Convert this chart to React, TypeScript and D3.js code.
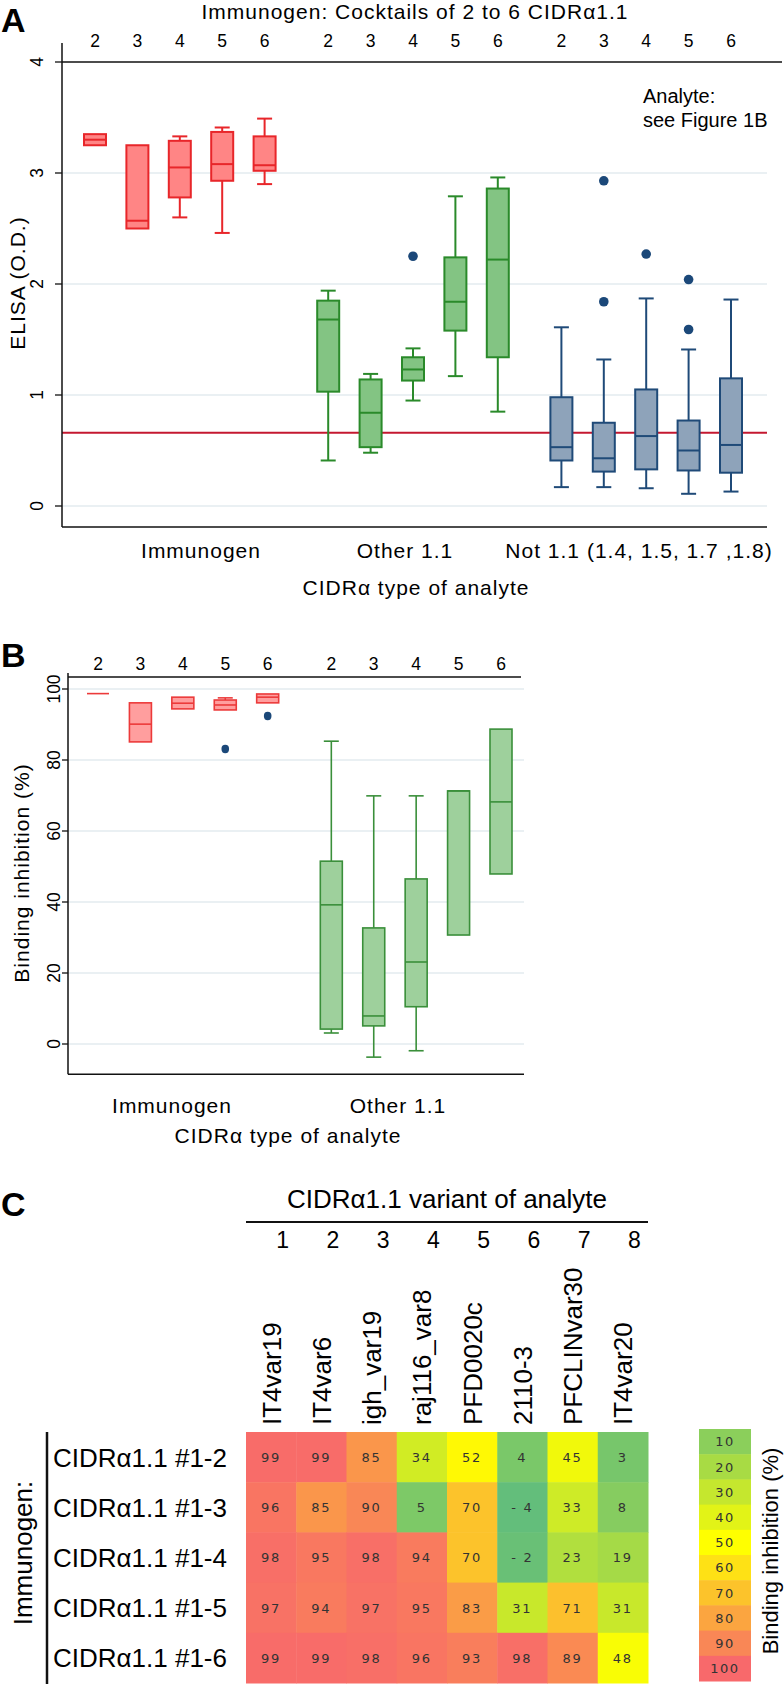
import React from "react";
import * as d3 from "d3";

// ---------- DATA ----------
const cocktailSizes = ["2", "3", "4", "5", "6"];
const analyteGroupsA = ["Immunogen", "Other 1.1", "Not 1.1 (1.4, 1.5, 1.7 ,1.8)"];
const analyteGroupsB = ["Immunogen", "Other 1.1"];

// [lower whisker, q1, median, q3, upper whisker]
const elisaImmunogen = [
  [3.25, 3.25, 3.3, 3.35, 3.35],
  [2.5, 2.5, 2.57, 3.25, 3.25],
  [2.6, 2.78, 3.05, 3.29, 3.33],
  [2.46, 2.93, 3.08, 3.37, 3.41],
  [2.9, 3.02, 3.07, 3.33, 3.49],
];
const elisaOther = [
  [0.41, 1.03, 1.68, 1.85, 1.94],
  [0.48, 0.53, 0.84, 1.14, 1.19],
  [0.95, 1.13, 1.23, 1.34, 1.42],
  [1.17, 1.58, 1.84, 2.24, 2.79],
  [0.85, 1.34, 2.22, 2.86, 2.96],
];
const elisaNot11 = [
  [0.17, 0.41, 0.53, 0.98, 1.61],
  [0.17, 0.31, 0.43, 0.75, 1.32],
  [0.16, 0.33, 0.63, 1.05, 1.87],
  [0.11, 0.32, 0.5, 0.77, 1.41],
  [0.13, 0.3, 0.55, 1.15, 1.86],
];
// [group, cocktail index, value]
const elisaOutliers = [
  [1, 2, 2.25],
  [2, 1, 2.93],
  [2, 1, 1.84],
  [2, 2, 2.27],
  [2, 3, 2.04],
  [2, 3, 1.59],
];
const elisaCutoff = 0.66;
const elisaTicks = [0, 1, 2, 3, 4];

const inhibImmunogen = [
  [98.7, 98.7, 98.7, 98.7, 98.7],
  [85.1, 85.1, 90.1, 96.1, 96.1],
  [94.4, 94.4, 96.0, 97.7, 97.7],
  [94.1, 94.1, 95.5, 96.9, 97.5],
  [96.1, 96.1, 97.7, 98.6, 98.6],
];
const inhibOther = [
  [3.1, 4.2, 39.2, 51.5, 85.3],
  [-3.7, 5.1, 7.9, 32.7, 69.9],
  [-1.9, 10.5, 23.1, 46.5, 69.9],
  [30.7, 30.7, 71.3, 71.3, 71.3],
  [47.9, 47.9, 68.2, 88.7, 88.7],
];
const inhibOutliers = [
  [0, 3, 83.1],
  [0, 4, 92.4],
];
const inhibTicks = [0, 20, 40, 60, 80, 100];

const variantNumbers = ["1", "2", "3", "4", "5", "6", "7", "8"];
const variants = ["IT4var19", "IT4var6", "igh_var19", "raj116_var8", "PFD0020c", "2110-3", "PFCLINvar30", "IT4var20"];
const immunogens = ["CIDRα1.1 #1-2", "CIDRα1.1 #1-3", "CIDRα1.1 #1-4", "CIDRα1.1 #1-5", "CIDRα1.1 #1-6"];
const inhibitionMatrix = [
  [99, 99, 85, 34, 52, 4, 45, 3],
  [96, 85, 90, 5, 70, -4, 33, 8],
  [98, 95, 98, 94, 70, -2, 23, 19],
  [97, 94, 97, 95, 83, 31, 71, 31],
  [99, 99, 98, 96, 93, 98, 89, 48],
];
const legendSteps = [10, 20, 30, 40, 50, 60, 70, 80, 90, 100];

// ---------- STYLE ----------
const FONT = "'Liberation Sans', Arial, Helvetica, sans-serif";
const NUMFONT = "'DejaVu Sans', 'Open Sans', sans-serif";
const GRID = "#e3ebef";

const paletteA = [
  { fill: "#ff8585", stroke: "#e8262a" },
  { fill: "#83c483", stroke: "#2a8a2a" },
  { fill: "#8ea3ba", stroke: "#1f4a78" },
];
const paletteB = [
  { fill: "#ff9e9e", stroke: "#ec3a3a" },
  { fill: "#9ed09c", stroke: "#3a8f3a" },
];
const OUTLIER = "#1b4879";

const heatColor = d3
  .scaleLinear<string>()
  .domain([-4, 50, 100])
  .range(["#63BE7B", "#FFFF00", "#F8696B"])
  .interpolate(d3.interpolateRgb);

function Box({ s, cx, y, w, capW, fill, stroke, sw }: any) {
  const [lo, q1, med, q3, hi] = s;
  const yq1 = y(q1), yq3 = y(q3);
  return (
    <g>
      {hi > q3 && (
        <>
          <line x1={cx} x2={cx} y1={y(hi)} y2={yq3} stroke={stroke} strokeWidth={sw} />
          <line x1={cx - capW / 2} x2={cx + capW / 2} y1={y(hi)} y2={y(hi)} stroke={stroke} strokeWidth={sw} />
        </>
      )}
      {lo < q1 && (
        <>
          <line x1={cx} x2={cx} y1={yq1} y2={y(lo)} stroke={stroke} strokeWidth={sw} />
          <line x1={cx - capW / 2} x2={cx + capW / 2} y1={y(lo)} y2={y(lo)} stroke={stroke} strokeWidth={sw} />
        </>
      )}
      <rect x={cx - w / 2} y={yq3} width={w} height={Math.max(0, yq1 - yq3)} fill={fill} stroke={stroke} strokeWidth={sw} />
      <line x1={cx - w / 2} x2={cx + w / 2} y1={y(med)} y2={y(med)} stroke={stroke} strokeWidth={sw} />
    </g>
  );
}

function PanelA() {
  const groups = [elisaImmunogen, elisaOther, elisaNot11];
  const slot = d3.scaleLinear().domain([0, 15]).range([95, 731]);
  const xs = (g: number, i: number) => slot(g * 5.5 + i);
  const y = d3.scaleLinear().domain([0, 4]).range([506, 62]);
  const left = 62, right = 767, bottom = y(-0.19);
  const groupLabelX = [201, 405, 639];
  return (
    <g fontFamily={FONT}>
      <text x={1} y={32} fontSize={34} fontWeight="bold">A</text>
      <text x={415} y={19} fontSize={21} letterSpacing={1} textAnchor="middle">
        Immunogen: Cocktails of 2 to 6 CIDRα1.1
      </text>
      {groups.map((_, g) =>
        cocktailSizes.map((c, i) => (
          <text key={`n${g}${i}`} x={xs(g, i)} y={47} fontSize={17.5} textAnchor="middle">{c}</text>
        ))
      )}
      {elisaTicks.filter((t) => t < 4).map((t) => (
        <line key={`g${t}`} x1={left} x2={right} y1={y(t)} y2={y(t)} stroke={GRID} strokeWidth={1.3} />
      ))}
      <line x1={left} x2={782} y1={y(4)} y2={y(4)} stroke="#111" strokeWidth={1.5} />
      <line x1={left} x2={right} y1={y(elisaCutoff)} y2={y(elisaCutoff)} stroke="#c41830" strokeWidth={2} />
      <line x1={left} x2={left} y1={43} y2={bottom} stroke="#111" strokeWidth={1.5} />
      <line x1={left} x2={right} y1={bottom} y2={bottom} stroke="#111" strokeWidth={1.5} />
      {elisaTicks.map((t) => (
        <g key={`t${t}`}>
          <line x1={left - 7} x2={left} y1={y(t)} y2={y(t)} stroke="#111" strokeWidth={1.3} />
          <text transform={`translate(43,${y(t)}) rotate(-90)`} fontSize={17.5} textAnchor="middle">{t}</text>
        </g>
      ))}
      {groups.map((gs, g) =>
        gs.map((s, i) => (
          <Box key={`b${g}${i}`} s={s} cx={xs(g, i)} y={y} w={22} capW={15} fill={paletteA[g].fill} stroke={paletteA[g].stroke} sw={2} />
        ))
      )}
      {elisaOutliers.map(([g, i, v], k) => (
        <circle key={`o${k}`} cx={xs(g, i)} cy={y(v)} r={4.8} fill={OUTLIER} />
      ))}
      <text x={643} y={103} fontSize={20}>Analyte:</text>
      <text x={643} y={127} fontSize={20}>see Figure 1B</text>
      {analyteGroupsA.map((lab, g) => (
        <text key={lab} x={groupLabelX[g]} y={558} fontSize={21} letterSpacing={1} textAnchor="middle">{lab}</text>
      ))}
      <text x={416} y={595} fontSize={21} letterSpacing={1} textAnchor="middle">CIDRα type of analyte</text>
      <text transform={`translate(25,283) rotate(-90)`} fontSize={21} letterSpacing={1} textAnchor="middle">ELISA (O.D.)</text>
    </g>
  );
}

function PanelB() {
  const groups = [inhibImmunogen, inhibOther];
  const slot = d3.scaleLinear().domain([0, 9.5]).range([98, 501]);
  const xs = (g: number, i: number) => slot(g * 5.5 + i);
  const y = d3.scaleLinear().domain([0, 100]).range([1044, 689]);
  const left = 68, right = 524, bottom = y(-8.5);
  const groupLabelX = [172, 398];
  return (
    <g fontFamily={FONT}>
      <text x={1} y={667} fontSize={34} fontWeight="bold">B</text>
      {groups.map((_, g) =>
        cocktailSizes.map((c, i) => (
          <text key={`n${g}${i}`} x={xs(g, i)} y={670} fontSize={17.5} textAnchor="middle">{c}</text>
        ))
      )}
      {inhibTicks.map((t) => (
        <line key={`g${t}`} x1={left} x2={right} y1={y(t)} y2={y(t)} stroke={GRID} strokeWidth={1.3} />
      ))}
      <line x1={left} x2={521} y1={677} y2={677} stroke="#111" strokeWidth={1.5} />
      <line x1={left} x2={left} y1={673} y2={bottom} stroke="#111" strokeWidth={1.5} />
      <line x1={left} x2={right} y1={bottom} y2={bottom} stroke="#111" strokeWidth={1.5} />
      {inhibTicks.map((t) => (
        <g key={`t${t}`}>
          <line x1={left - 6} x2={left} y1={y(t)} y2={y(t)} stroke="#111" strokeWidth={1.3} />
          <text transform={`translate(60,${y(t)}) rotate(-90)`} fontSize={17.5} textAnchor="middle">{t}</text>
        </g>
      ))}
      {groups.map((gs, g) =>
        gs.map((s, i) => (
          <Box key={`b${g}${i}`} s={s} cx={xs(g, i)} y={y} w={22} capW={15} fill={paletteB[g].fill} stroke={paletteB[g].stroke} sw={1.6} />
        ))
      )}
      {inhibOutliers.map(([g, i, v], k) => (
        <ellipse key={`o${k}`} cx={xs(g, i)} cy={y(v)} rx={3.8} ry={4.2} fill={OUTLIER} />
      ))}
      {analyteGroupsB.map((lab, g) => (
        <text key={lab} x={groupLabelX[g]} y={1113} fontSize={21} letterSpacing={1} textAnchor="middle">{lab}</text>
      ))}
      <text x={288} y={1143} fontSize={21} letterSpacing={1} textAnchor="middle">CIDRα type of analyte</text>
      <text transform={`translate(29,873) rotate(-90)`} fontSize={21} letterSpacing={1} textAnchor="middle">Binding inhibition (%)</text>
    </g>
  );
}

function PanelC() {
  const x = d3.scaleBand().domain(variants).range([246, 648]);
  const y = d3.scaleBand().domain(immunogens).range([1432, 1683]);
  const bw = x.bandwidth(), bh = y.bandwidth();
  const leg = d3.scaleBand().domain(legendSteps.map(String)).range([1429, 1681]);
  const fmt = (v: number) => (v < 0 ? `- ${Math.abs(v)}` : `${v}`);
  return (
    <g fontFamily={FONT}>
      <text x={1} y={1216} fontSize={34} fontWeight="bold">C</text>
      <text x={447} y={1208} fontSize={26} textAnchor="middle">CIDRα1.1 variant of analyte</text>
      <line x1={246} x2={648} y1={1222} y2={1222} stroke="#111" strokeWidth={2.2} />
      {variantNumbers.map((n, j) => (
        <text key={`vn${n}`} x={(x(variants[j]) as number) + bw / 2 + 11.5} y={1248} fontSize={23} textAnchor="middle">{n}</text>
      ))}
      {variants.map((v) => (
        <text key={`vl${v}`} transform={`translate(${(x(v) as number) + bw / 2 + 9.5},1425) rotate(-90)`} fontSize={26}>{v}</text>
      ))}
      {immunogens.map((im, i) =>
        variants.map((v, j) => (
          <rect key={`c${i}${j}`} x={x(v)} y={y(im)} width={bw + 0.5} height={bh + 0.5} fill={heatColor(inhibitionMatrix[i][j])} />
        ))
      )}
      {immunogens.map((im, i) =>
        variants.map((v, j) => (
          <text key={`ct${i}${j}`} x={(x(v) as number) + bw / 2} y={(y(im) as number) + bh / 2 + 4.8} fontSize={13} letterSpacing={1.8} fontFamily={NUMFONT} fill="#333" textAnchor="middle">
            {fmt(inhibitionMatrix[i][j])}
          </text>
        ))
      )}
      {immunogens.map((im) => (
        <text key={`rl${im}`} x={53} y={(y(im) as number) + bh / 2 + 9.5} fontSize={26}>{im}</text>
      ))}
      <line x1={47} x2={47} y1={1432} y2={1684} stroke="#111" strokeWidth={2.5} />
      <text transform={`translate(32,1553) rotate(-90)`} fontSize={26} textAnchor="middle">Immunogen:</text>
      {legendSteps.map((s) => (
        <g key={`lg${s}`}>
          <rect x={699} y={leg(String(s))} width={52} height={leg.bandwidth() + 0.5} fill={heatColor(s)} />
          <text x={725} y={(leg(String(s)) as number) + leg.bandwidth() / 2 + 4.8} fontSize={13} letterSpacing={1.5} fontFamily={NUMFONT} fill="#333" textAnchor="middle">{s}</text>
        </g>
      ))}
      <text transform={`translate(778,1551) rotate(-90)`} fontSize={22} textAnchor="middle">Binding inhibition (%)</text>
    </g>
  );
}

export default function App() {
  return (
    <svg width={784} height={1684} viewBox="0 0 784 1684" style={{ position: "absolute", left: 0, top: 0, background: "#fff" }}>
      <rect width={784} height={1684} fill="#fff" />
      <PanelA />
      <PanelB />
      <PanelC />
    </svg>
  );
}
